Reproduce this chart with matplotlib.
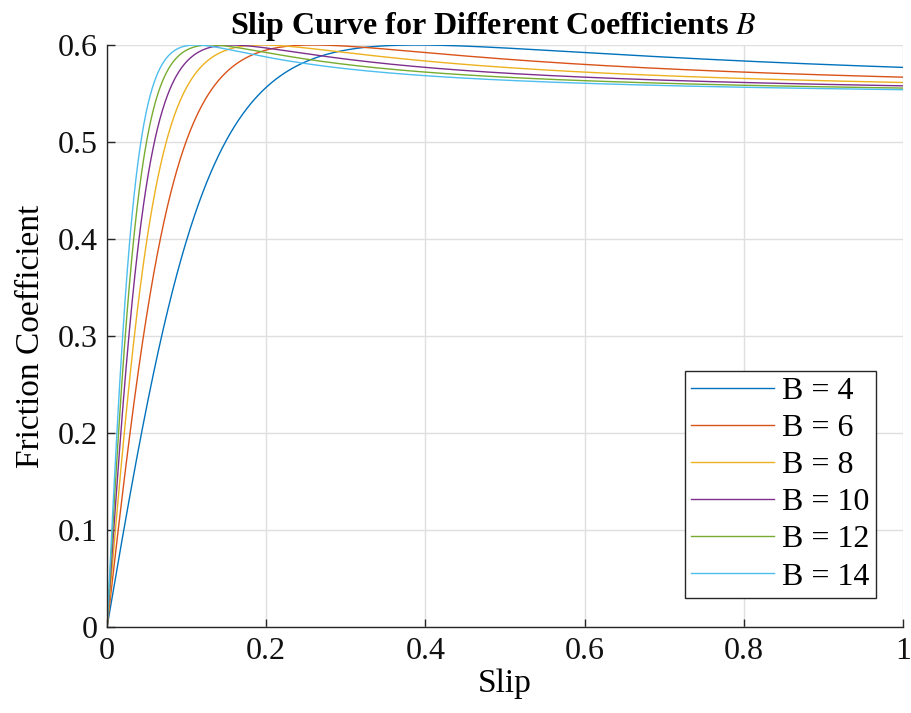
import numpy as np
import matplotlib
matplotlib.use("Agg")
import matplotlib.pyplot as plt

# Magic Formula tyre model: mu = D*sin(C*atan(B*s - E*(B*s - atan(B*s))))
B_values = [4, 6, 8, 10, 12, 14]
C = 2.0
D = 0.6
E = 1.0
colors = ["#0072BD", "#D95319", "#EDB120", "#7E2F8E", "#77AC30", "#4DBEEE"]

x_ticks = [0, 0.2, 0.4, 0.6, 0.8, 1]
x_labels = ["0", "0.2", "0.4", "0.6", "0.8", "1"]
y_ticks = [0, 0.1, 0.2, 0.3, 0.4, 0.5, 0.6]
y_labels = ["0", "0.1", "0.2", "0.3", "0.4", "0.5", "0.6"]

plt.rcParams['font.family'] = ['Liberation Serif', 'DejaVu Serif']
plt.rcParams['mathtext.fontset'] = 'stix'

slip = np.linspace(0, 1, 2001)

fig = plt.figure(figsize=(9.11, 7.13), dpi=100)
ax = fig.add_axes([0.1175, 0.1206, 0.8737, 0.8163])

for B, c in zip(B_values, colors):
    bs = B * slip
    mu = D * np.sin(C * np.arctan(bs - E * (bs - np.arctan(bs))))
    ax.plot(slip, mu, color=c, lw=1.0, label="B = %d" % B)

ax.set_xlim(0, 1)
ax.set_ylim(0, 0.6)
ax.set_xticks(x_ticks)
ax.set_xticklabels(x_labels)
ax.set_yticks(y_ticks)
ax.set_yticklabels(y_labels)

ax.grid(True, color="#dfdfdf", lw=1.0)
ax.set_axisbelow(True)
for side in ["top", "right"]:
    ax.spines[side].set_visible(False)
for side in ["left", "bottom"]:
    ax.spines[side].set_color("#262626")
    ax.spines[side].set_linewidth(1.0)
ax.tick_params(direction="in", length=6, width=1.0, color="#262626",
               labelsize=23, labelcolor="#111111", pad=7)

ax.set_xlabel("Slip", fontsize=24, labelpad=2)
ax.set_ylabel("Friction Coefficient", fontsize=24, labelpad=8)
ax.set_title(r"Slip Curve for Different Coefficients $B$", fontsize=23,
             fontweight="bold", pad=8, x=0.485)

leg = ax.legend(loc="lower right", bbox_to_anchor=(0.966, 0.05), fontsize=23,
                frameon=True, fancybox=False, framealpha=1, edgecolor="#262626",
                handlelength=2.6, handletextpad=0.25, labelspacing=0.24,
                borderpad=0.2, borderaxespad=0)
leg.get_frame().set_linewidth(1.0)

fig.savefig("out.png", dpi=100)
